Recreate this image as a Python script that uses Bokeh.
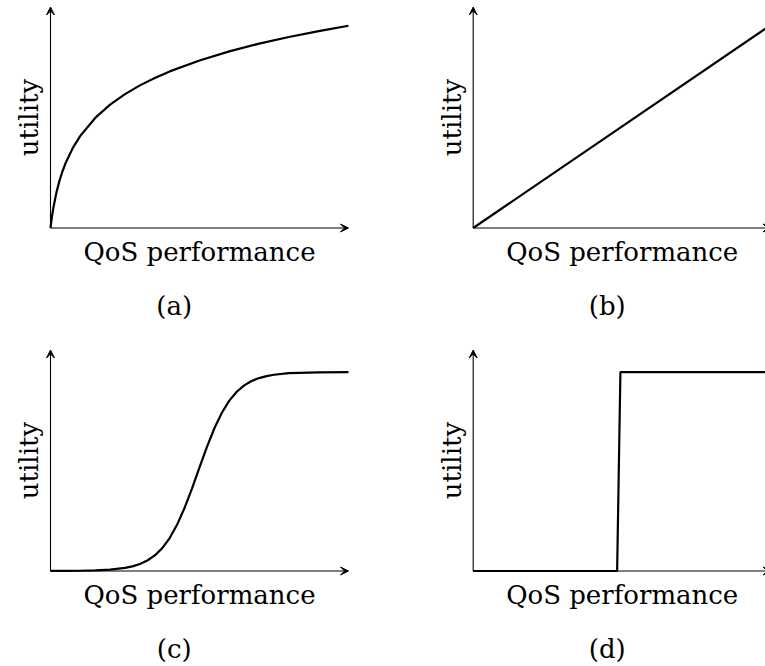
import math

from bokeh.plotting import figure
from bokeh.layouts import column, row
from bokeh.models import Arrow, VeeHead, Label, Range1d
from bokeh.embed import file_html
from bokeh.resources import INLINE

# ---- data: four utility shapes over QoS performance (0..10 on both axes) ----
axis_max = 10.0

# (a) concave / logarithmic utility
log_x = [0, 0.01, 0.02, 0.05, 0.1, 0.2, 0.3, 0.4, 0.5, 0.75, 1, 1.5, 2, 2.5, 3, 3.5, 4, 5, 6, 7, 8, 9, 10]
log_y = [0, 0.114, 0.222, 0.519, 0.943, 1.613, 2.132, 2.557, 2.916, 3.626, 4.170, 4.980, 5.580, 6.057,
         6.453, 6.790, 7.086, 7.581, 7.991, 8.340, 8.642, 8.910, 9.150]

# (b) linear utility
lin_x = [0, 10]
lin_y = [0, 9.2]

# (c) sigmoid utility
sig_x = [0, 0.5, 1, 1.5, 2, 2.5, 2.75, 3, 3.25, 3.5, 3.75, 4, 4.25, 4.5, 4.75, 5, 5.25, 5.5, 5.75,
         6, 6.25, 6.5, 6.75, 7, 7.25, 7.5, 8, 9, 10]
sig_y = [0.002, 0.005, 0.011, 0.025, 0.059, 0.138, 0.209, 0.316, 0.474, 0.705, 1.036, 1.49, 2.10,
         2.86, 3.74, 4.69, 5.62, 6.46, 7.16, 7.71, 8.11, 8.40, 8.60, 8.73, 8.82, 8.88, 8.95, 8.99, 9.0]

# (d) step utility
step_x = [0, 4.83, 4.94, 10]
step_y = [0, 0, 9.0, 9.0]

x_label = "QoS performance"
y_label = "utility"
captions = ["(a)", "(b)", "(c)", "(d)"]

FONT = "DejaVu Serif"
FONT_SIZE = "26px"
PX_X = 29.8   # pixels per data unit, horizontal
PX_Y = 22.1   # pixels per data unit, vertical


def panel(w, h, ox, oy, xs, ys, caption, cap_x):
    """One panel of width w, height h whose origin sits at pixel (ox, oy) from its top-left."""
    p = figure(width=w, height=h, output_backend="svg", toolbar_location=None,
               x_axis_location=None, y_axis_location=None, min_border=0,
               outline_line_color=None, border_fill_color="white", background_fill_color="white")
    p.x_range = Range1d(-ox / PX_X, (w - ox) / PX_X)
    p.y_range = Range1d((oy - h) / PX_Y, oy / PX_Y)
    p.xgrid.visible = False
    p.ygrid.visible = False

    # axes drawn as arrows
    for xe, ye in [(axis_max, 0), (0, axis_max)]:
        p.add_layout(Arrow(x_start=0, y_start=0, x_end=xe, y_end=ye, line_width=1.1,
                           line_color="black",
                           end=VeeHead(size=8, fill_color="black", line_color="black", line_width=1)))

    p.line(xs, ys, line_width=2.2, line_color="black")

    p.add_layout(Label(x=5.0, y=-1.08, text=x_label, text_align="center",
                       text_baseline="alphabetic", text_font=FONT, text_font_size=FONT_SIZE,
                       text_color="black"))
    p.add_layout(Label(x=-0.72, y=5.0, text=y_label, angle=math.pi / 2, text_align="center",
                       text_baseline="alphabetic", text_font=FONT, text_font_size=FONT_SIZE,
                       text_color="black"))
    p.add_layout(Label(x=cap_x, y=-3.54, text=caption, text_align="center",
                       text_baseline="alphabetic", text_font=FONT, text_font_size=FONT_SIZE,
                       text_color="black"))
    return p


pa = panel(400, 340, 50, 227.5, log_x, log_y, captions[0], 4.15)
pb = panel(365, 340, 72.7, 227.5, lin_x, lin_y, captions[1], 4.5)
pc = panel(400, 326, 50, 230.5, sig_x, sig_y, captions[2], 4.15)
pd = panel(365, 326, 72.7, 230.5, step_x, step_y, captions[3], 4.5)

layout = column(row(pa, pb), row(pc, pd))

open("out.html", "w").write(file_html(layout, INLINE))
